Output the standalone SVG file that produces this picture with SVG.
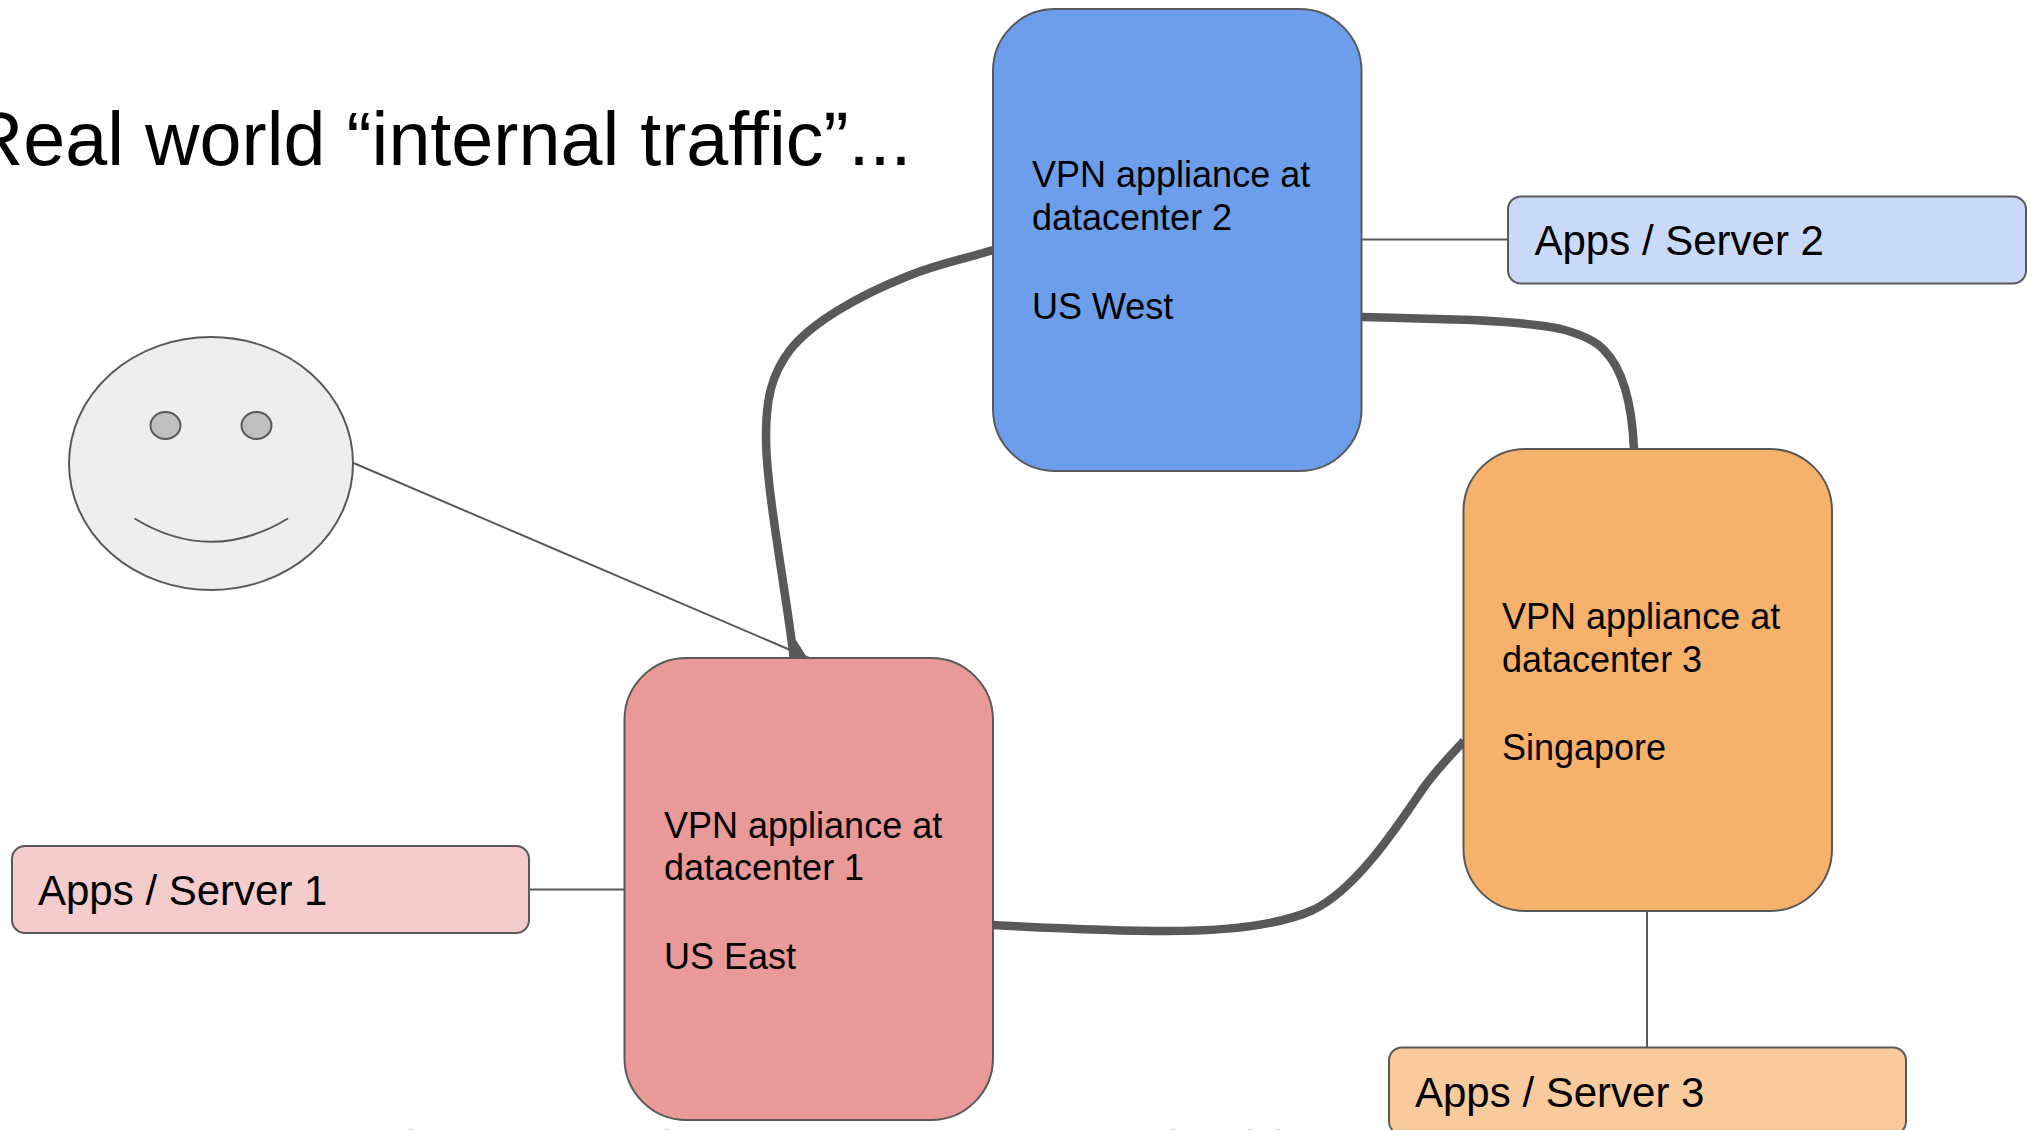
<svg xmlns="http://www.w3.org/2000/svg" width="2033" height="1130" viewBox="0 0 2033 1130">
<style>
text{font-family:"Liberation Sans",Arial,sans-serif;fill:#000;font-variant-ligatures:none}
.vpn{stroke:#595959;stroke-width:2}
.t{font-size:36px}
.app{stroke:#595959;stroke-width:2}
.a{font-size:42px}
.thin{fill:none;stroke:#595959;stroke-width:2}
.thick{fill:none;stroke:#595959;stroke-width:8.500}
.mark{fill:#cccccc}
</style>
<rect width="2033" height="1130" fill="#fff"/>
<text id="title" x="911.500" y="165" text-anchor="end" font-size="75.500">Real world “internal traffic”...</text>
<g id="connectors">
<path class="thin" d="M353.500 463L809 658"/>
<path class="thin" d="M1361.500 239.500H1508"/>
<path class="thin" d="M529 889.500H625"/>
<path class="thin" d="M1647 911V1047"/>
<path class="thick" d="M794 660C786 590 766 490 766 437C766 400 771 375 790 350C812 322 860 295 908 276C940 263 965 259 993 250"/>
<path d="M796 640L808 659L794 660Z" fill="#595959"/>
<path class="thick" d="M1361 317C1400 318 1440 319 1472 320C1510 322 1540 324 1561 329C1580 334 1595 340 1604 350C1622 368 1632 400 1634 450"/>
<path class="thick" d="M993 925C1050 928 1110 931 1167 931C1220 931 1275 927 1313 910C1355 890 1395 830 1422 790C1436 770 1450 756 1464 741"/>
</g>
<g id="face">
<ellipse cx="211" cy="463.500" rx="142" ry="126.500" fill="#eeeeee" stroke="#595959" stroke-width="2"/>
<ellipse cx="165.500" cy="425.500" rx="15" ry="13.500" fill="#bfbfbf" stroke="#595959" stroke-width="2"/>
<ellipse cx="256.500" cy="425.500" rx="15" ry="13.500" fill="#bfbfbf" stroke="#595959" stroke-width="2"/>
<path class="thin" d="M134.500 518.500Q211 565 288 518.500"/>
</g>
<g id="vpn2">
<rect class="vpn" x="993" y="9" width="368.500" height="462" rx="62" fill="#6d9eeb"/>
<text class="t" x="1032" y="187">VPN appliance at</text>
<text class="t" x="1032" y="230">datacenter 2</text>
<text class="t" x="1032" y="319">US West</text>
</g>
<g id="vpn1">
<rect class="vpn" x="624.500" y="658" width="368.500" height="462" rx="62" fill="#ea9999"/>
<text class="t" x="664" y="838">VPN appliance at</text>
<text class="t" x="664" y="880">datacenter 1</text>
<text class="t" x="664" y="969">US East</text>
</g>
<g id="vpn3">
<rect class="vpn" x="1463.500" y="449" width="368.500" height="462" rx="62" fill="#f6b26b"/>
<text class="t" x="1502" y="629">VPN appliance at</text>
<text class="t" x="1502" y="672">datacenter 3</text>
<text class="t" x="1502" y="760">Singapore</text>
</g>
<g id="app1">
<rect class="app" x="12" y="846" width="517" height="87" rx="13" fill="#f4cccc"/>
<text class="a" x="38" y="905">Apps / Server 1</text>
</g>
<g id="app2">
<rect class="app" x="1508" y="196.500" width="518" height="87" rx="13" fill="#c9daf8"/>
<text class="a" x="1534.500" y="255">Apps / Server 2</text>
</g>
<g id="app3">
<rect class="app" x="1389" y="1047.500" width="517" height="87" rx="13" fill="#f9cb9c"/>
<text class="a" x="1415" y="1107">Apps / Server 3</text>
</g>
<g id="cut-marks">
<rect class="mark" x="409" y="1129" width="4" height="1"/>
<rect class="mark" x="665" y="1129" width="4" height="1"/>
<rect class="mark" x="1171" y="1129" width="4" height="1"/>
<rect class="mark" x="1248" y="1129" width="4" height="1"/>
<rect class="mark" x="1276" y="1129" width="4" height="1"/>
</g>
</svg>
